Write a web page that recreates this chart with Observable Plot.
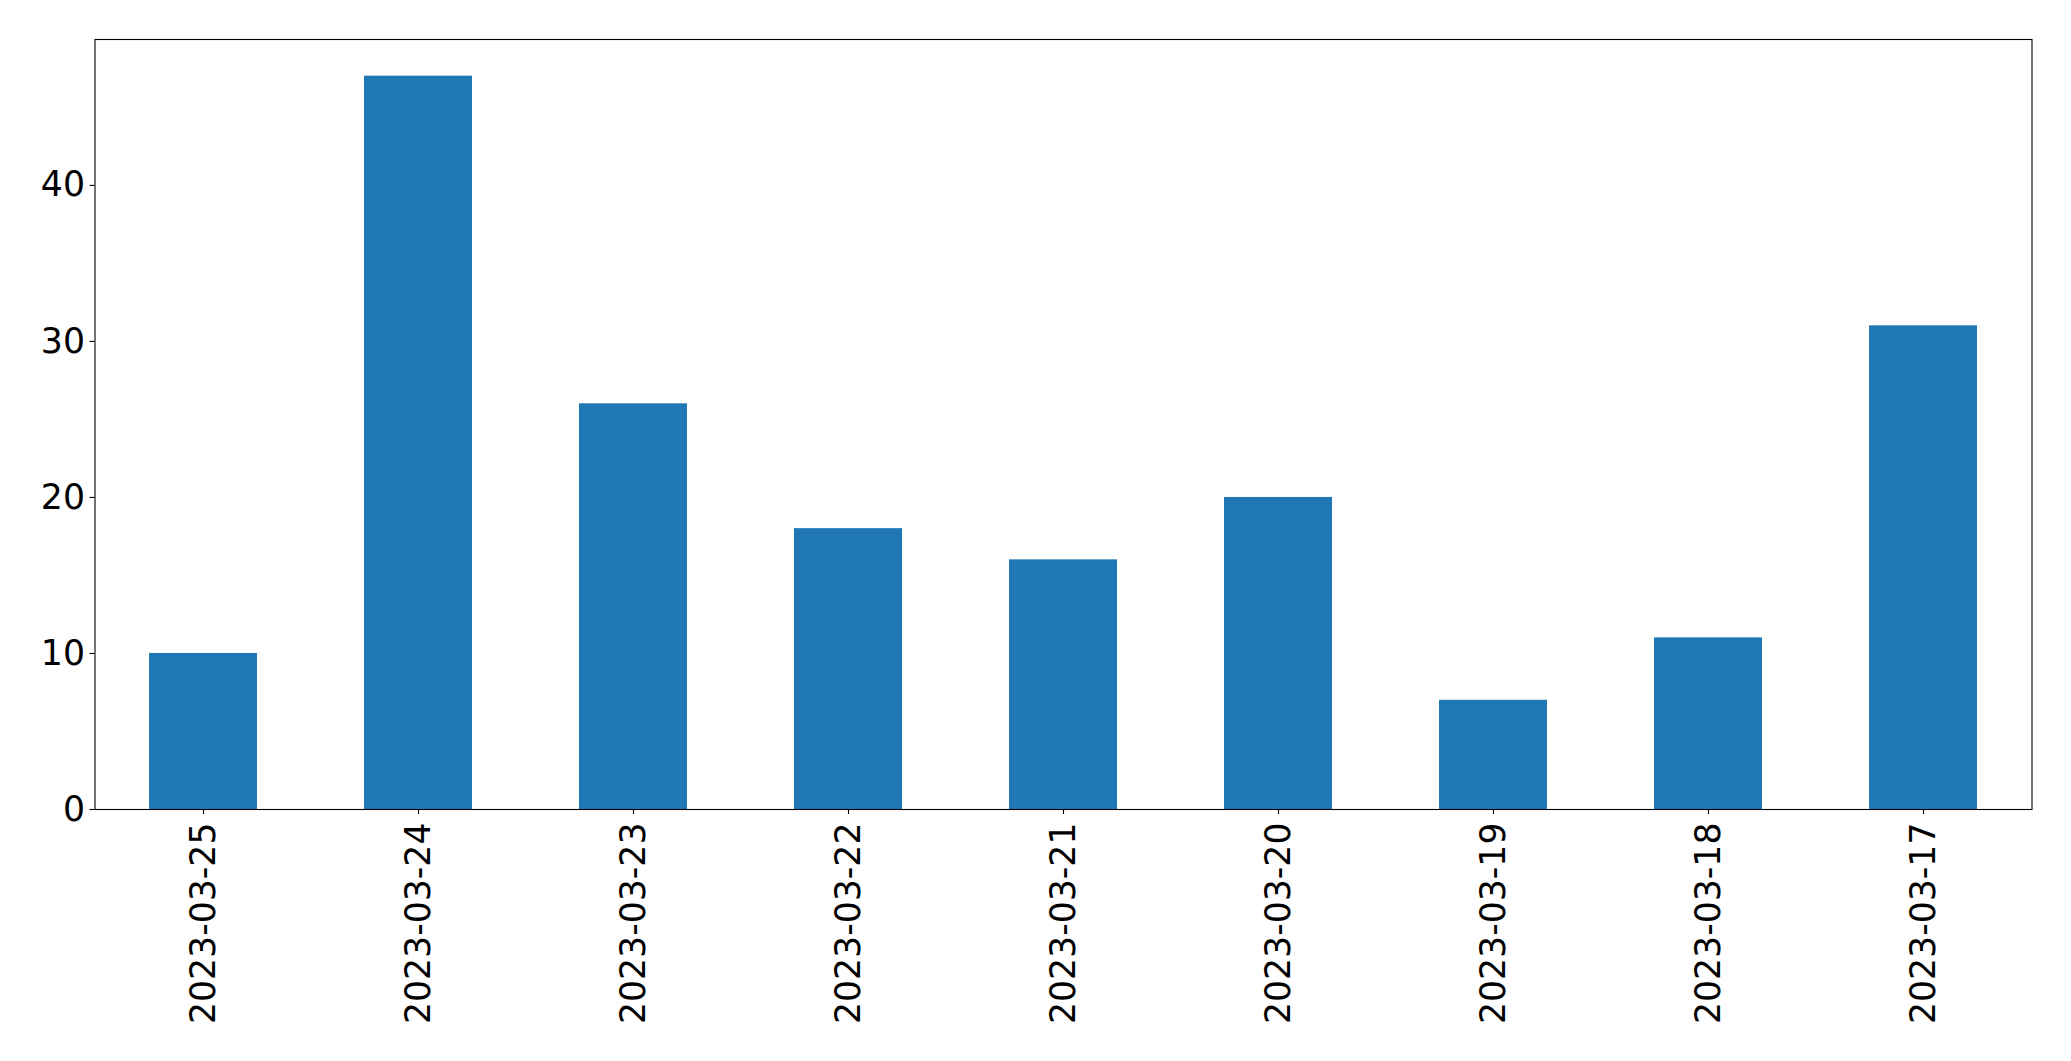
<!DOCTYPE html>
<html>
<head>
<meta charset="utf-8">
<script src="https://cdn.jsdelivr.net/npm/d3@7"></script>
<script src="https://cdn.jsdelivr.net/npm/@observablehq/plot@0.6"></script>
<style>
  html, body { margin: 0; padding: 0; background: #fff; }
</style>
</head>
<body>
<div id="chart"></div>
<script>
const dates = ["2023-03-25", "2023-03-24", "2023-03-23", "2023-03-22", "2023-03-21", "2023-03-20", "2023-03-19", "2023-03-18", "2023-03-17"];
const counts = [10, 47, 26, 18, 16, 20, 7, 11, 31];
const yTicks = [0, 10, 20, 30, 40];

const data = dates.map((d, i) => ({date: d, count: counts[i]}));
const yMax = d3.max(counts) * 1.05;

const chart = Plot.plot({
  width: 2071,
  height: 1061,
  marginLeft: 94.5,
  marginRight: 39.5,
  marginTop: 39,
  marginBottom: 252,
  style: {fontFamily: "DejaVu Sans", fontSize: "34.7px", color: "#000", background: "#fff"},
  x: {type: "band", domain: dates, paddingInner: 0.5, paddingOuter: 0.25, label: null},
  y: {domain: [0, yMax], label: null},
  marks: [
    Plot.barY(data, {x: "date", y: "count", fill: "#1f77b4"}),
    Plot.frame({stroke: "#000", strokeWidth: 1.1}),
    Plot.axisY({ticks: yTicks, tickSize: 5, tickPadding: 5, strokeWidth: 1.1, label: null, fill: "#000"}),
    Plot.axisX({tickSize: 5, tickPadding: 8, tickRotate: -90, strokeWidth: 1.1, label: null, fill: "#000"})
  ]
});
document.getElementById("chart").appendChild(chart);
</script>
</body>
</html>
